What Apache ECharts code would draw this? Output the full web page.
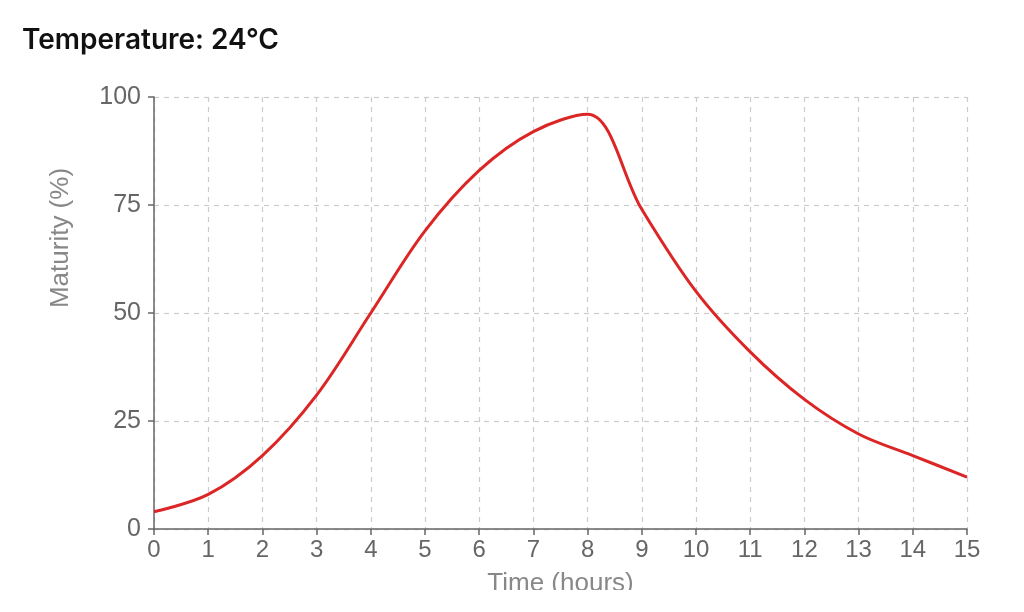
<!DOCTYPE html>
<html>
<head>
<meta charset="utf-8">
<script src="https://cdn.jsdelivr.net/npm/echarts@6/dist/echarts.min.js"></script>
<style>
html,body{margin:0;padding:0;background:#fff;}
#wrap{width:1024px;height:590px;overflow:hidden;}
#chart{width:1024px;height:612px;}
</style>
</head>
<body>
<div id="wrap"><div id="chart"></div></div>
<script>
const titleText = 'Temperature: 24°C';
const xName = 'Time (hours)';
const yName = 'Maturity (%)';
const hours = [0,1,2,3,4,5,6,7,8,9,10,11,12,13,14,15];
const maturity = [4,8,17,31,50,69,83,92,96,74,55,41,30,22,17,12];

const chart = echarts.init(document.getElementById('chart'), null, {renderer:'canvas'});
const font = '"Liberation Sans", Arial, sans-serif';
chart.setOption({
  animation:false,
  backgroundColor:'#fff',
  title:{text:titleText,left:17,top:22,textStyle:{fontFamily:'Inter, sans-serif',fontSize:28,fontWeight:600,color:'#111'}},
  grid:{left:154,right:57,top:97,bottom:83,containLabel:false},
  xAxis:{
    type:'value',min:0,max:15,interval:1,
    name:xName,nameLocation:'middle',nameGap:42,
    nameTextStyle:{fontFamily:font,fontSize:26,color:'#888'},
    axisLine:{show:true,lineStyle:{color:'#666',width:1.5}},
    axisTick:{show:true,length:6,lineStyle:{color:'#666',width:1.5}},
    axisLabel:{fontFamily:font,fontSize:24,color:'#666',margin:9},
    splitLine:{show:true,lineStyle:{color:'#ccc',type:[5,5],width:1.2}}
  },
  yAxis:{
    type:'value',min:0,max:100,interval:25,
    name:yName,nameLocation:'middle',nameGap:80,
    nameTextStyle:{fontFamily:font,fontSize:26,color:'#888',padding:[0,0,0,150]},
    axisLine:{show:true,lineStyle:{color:'#666',width:1.5}},
    axisTick:{show:true,length:6,lineStyle:{color:'#666',width:1.5}},
    axisLabel:{fontFamily:font,fontSize:25,color:'#666',margin:13},
    splitLine:{show:true,lineStyle:{color:'#ccc',type:[5,5],width:1.2}}
  },
  series:[{
    type:'line',
    data:hours.map((h,i)=>[h,maturity[i]]),
    smooth:0.35,
    showSymbol:false,
    lineStyle:{color:'#dc2626',width:3},
    itemStyle:{color:'#dc2626'}
  }]
});
</script>
</body>
</html>
